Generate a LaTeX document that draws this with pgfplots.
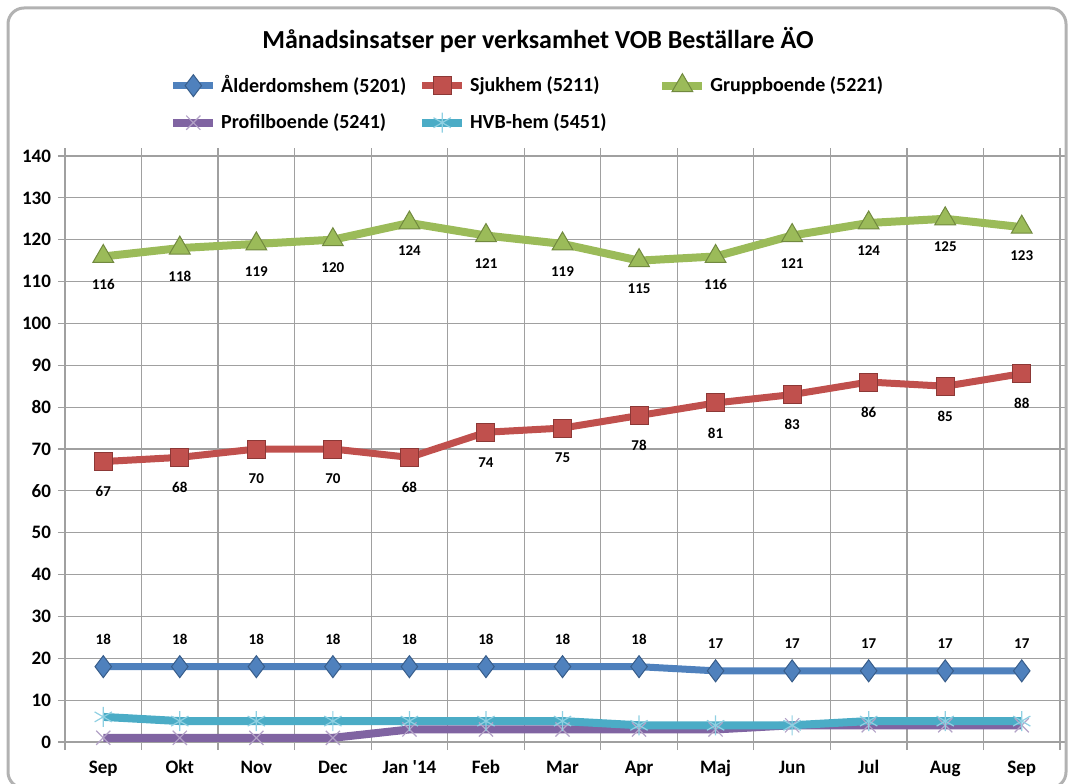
\documentclass[border=0pt]{standalone}
\usepackage{fontspec}
\setmainfont{Carlito}
\usepackage{pgfplots}
\usepackage{pgfplotstable}
\pgfplotsset{compat=1.18}

\definecolor{cBlue}{HTML}{4F81BD}
\definecolor{cBlueD}{HTML}{385D8A}
\definecolor{cRed}{HTML}{C0504D}
\definecolor{cRedD}{HTML}{8C3836}
\definecolor{cGreen}{HTML}{9BBB59}
\definecolor{cGreenD}{HTML}{71893F}
\definecolor{cPurple}{HTML}{8064A2}
\definecolor{cPurpleL}{HTML}{B3A2C7}
\definecolor{cAqua}{HTML}{4BACC6}
\definecolor{cAquaL}{HTML}{8FD0E2}
\definecolor{cGrid}{HTML}{A0A0A0}

% x: 0 = Sep 2013 ... 12 = Sep 2014
\pgfplotstableread{
x  grupp sjuk alder profil hvb
0  116   67   18    1      6
1  118   68   18    1      5
2  119   70   18    1      5
3  120   70   18    1      5
4  124   68   18    3      5
5  121   74   18    3      5
6  119   75   18    3      5
7  115   78   18    3      4
8  116   81   17    3      4
9  121   83   17    4      4
10 124   86   17    4      5
11 125   85   17    4      5
12 123   88   17    4      5
}\data

\begin{document}
\begin{tikzpicture}
\begin{axis}[
  scale only axis,
  width=497.5pt, height=293pt,
  xmin=-0.5, xmax=12.5,
  ymin=0, ymax=140,
  xtick={0,...,12},
  xticklabels={Sep,Okt,Nov,Dec,Jan \textquotesingle14,Feb,Mar,Apr,Maj,Jun,Jul,Aug,Sep},
  minor xtick={-0.5,0.5,...,12.5},
  ytick={0,10,...,140},
  major x tick style={draw=none},
  minor x tick style={cGrid, line width=0.6pt},
  y tick style={cGrid, line width=0.6pt},
  tick align=outside,
  major tick length=3.5pt,
  minor tick length=4pt,
  xminorgrids, ymajorgrids,
  grid style={cGrid, line width=0.6pt},
  axis line style={cGrid, line width=0.6pt},
  ticklabel style={font=\bfseries\fontsize{9.5}{11}\selectfont},
  /pgf/number format/assume math mode=true,
  xticklabel style={text height=7pt, text depth=2pt, yshift=-1.5pt},
  clip=false,
  legend columns=3,
  legend style={
    at={(0,1)}, anchor=south west, xshift=52pt, yshift=10pt,
    draw=none, fill=none,
    font=\bfseries\fontsize{10}{12}\selectfont,
    /tikz/column 2/.style={column sep=4pt},
    /tikz/column 4/.style={column sep=24pt},
    row sep=5pt, inner sep=0pt,
  },
  legend cell align=left,
  legend image code/.code={
    \draw[mark repeat=2, mark phase=2] plot coordinates {(0cm,0cm) (0.35cm,0cm) (0.7cm,0cm)};
  },
  every node near coord/.append style={font=\bfseries\fontsize{7.5}{9}\selectfont, text=black},
]
\addplot[cBlue, line width=3.5pt, mark=diamond*, mark size=5.5pt,
  mark options={fill=cBlue, draw=cBlueD, line width=0.5pt},
  nodes near coords, every node near coord/.append style={anchor=center, yshift=13.5pt}]
  table[x=x, y=alder] {\data};
\addlegendentry{Ålderdomshem (5201)}
\addplot[cRed, line width=3.5pt, mark=square*, mark size=4.5pt,
  mark options={fill=cRed, draw=cRedD, line width=0.5pt},
  nodes near coords, every node near coord/.append style={anchor=center, yshift=-15pt}]
  table[x=x, y=sjuk] {\data};
\addlegendentry{Sjukhem (5211)}
\addplot[cGreen, line width=4pt, mark=triangle*, mark size=6pt,
  mark options={fill=cGreen, draw=cGreenD, line width=0.5pt},
  nodes near coords, every node near coord/.append style={anchor=center, yshift=-14pt}]
  table[x=x, y=grupp] {\data};
\addlegendentry{Gruppboende (5221)}
\addplot[cPurple, line width=4pt, mark=x, mark size=5pt,
  mark options={draw=cPurpleL, line width=0.6pt}]
  table[x=x, y=profil] {\data};
\addlegendentry{Profilboende (5241)}
\addplot[cAqua, line width=4pt, mark=asterisk, mark size=5pt,
  mark options={draw=cAquaL, line width=0.6pt}]
  table[x=x, y=hvb] {\data};
\addlegendentry{HVB-hem (5451)}
\coordinate (NW) at (rel axis cs:0,1);
\coordinate (SE) at (rel axis cs:1,0);
\end{axis}
\node[font=\bfseries\fontsize{13}{15}\selectfont] at ([xshift=236.5pt,yshift=58pt]NW)
  {Månadsinsatser per verksamhet VOB Beställare ÄO};
\draw[gray!60, line width=1.5pt, rounded corners=8pt]
  ([xshift=-28.5pt,yshift=74pt]NW) rectangle ([xshift=3pt,yshift=-23pt]SE);
\pgfresetboundingbox
\useasboundingbox ([xshift=-32.5pt,yshift=78pt]NW) rectangle ([xshift=4pt,yshift=-20.5pt]SE);
\end{tikzpicture}
\end{document}
